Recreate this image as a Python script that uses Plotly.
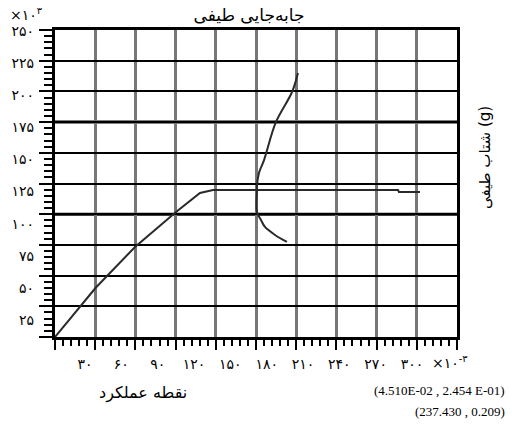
import plotly.graph_objects as go

# ---- data ----
capacity_sd = [0, 30.2, 59.7, 90.3, 108.2, 117.9, 256.0, 256.7, 272.4]
capacity_sa = [0, 39.9, 73.3, 101.8, 117.3, 119.7, 119.7, 118.1, 118.1]

demand_sd = [181.3, 176.9, 164.9, 156.0, 152.2, 150.7, 150.7, 150.7, 153.7, 156.7, 164.2, 173.1]
demand_sa = [215.0, 199.5, 175.1, 144.1, 133.6, 123.0, 119.7, 101.8, 95.3, 89.6, 83.1, 77.4]

x_tick_vals = [30, 60, 90, 120, 150, 180, 210, 240, 270, 300]
x_tick_text = ["۳۰", "۶۰", "۹۰", "۱۲۰", "۱۵۰", "۱۸۰", "۲۱۰", "۲۴۰", "۲۷۰", "۳۰۰"]
y_tick_vals = [25, 50, 75, 100, 125, 150, 175, 200, 225, 250]
y_tick_text = ["۲۵", "۵۰", "۷۵", "۱۰۰", "۱۲۵", "۱۵۰", "۱۷۵", "۲۰۰", "۲۲۵", "۲۵۰"]
emphasis_y = [100, 175]

title_text = "جابه‌جایی طیفی"
y_title_text = "شتاب طیفی (g)"
point_label = "نقطه عملکرد"
point_line1 = "(4.510E-02 , 2.454 E-01)"
point_line2 = "(237.430 , 0.209)"

FA = "DejaVu Sans"
SERIF = "Liberation Serif"

fig = go.Figure()
fig.add_trace(go.Scatter(x=capacity_sd, y=capacity_sa, mode="lines",
                         line=dict(color="#2a2a2a", width=2), showlegend=False,
                         hoverinfo="skip"))
fig.add_trace(go.Scatter(x=demand_sd, y=demand_sa, mode="lines",
                         line=dict(color="#2a2a2a", width=2, shape="spline"),
                         showlegend=False, hoverinfo="skip"))
# empty traces so the label-only axes get drawn
fig.add_trace(go.Scatter(x=[], y=[], xaxis="x2", yaxis="y", showlegend=False,
                         hoverinfo="skip"))
fig.add_trace(go.Scatter(x=[], y=[], xaxis="x", yaxis="y2", showlegend=False,
                         hoverinfo="skip"))

for yv in emphasis_y:
    fig.add_shape(type="line", xref="paper", x0=0, x1=1, yref="y", y0=yv, y1=yv,
                  line=dict(color="black", width=3), layer="below")

fig.update_layout(
    width=512, height=430,
    margin=dict(l=55, r=55, t=30, b=93),
    paper_bgcolor="white", plot_bgcolor="white",
    title=dict(text=title_text, x=249 / 512, y=1 - 15 / 430,
               xanchor="center", yanchor="middle",
               font=dict(family=FA, size=17, color="black")),
    xaxis=dict(range=[0, 300], dtick=30, tick0=0, showgrid=True,
               gridcolor="#777777", gridwidth=2.5, zeroline=False,
               showline=True, linecolor="black", linewidth=3, mirror=True,
               ticks="outside", ticklen=10, tickwidth=2, tickcolor="black",
               showticklabels=False,
               minor=dict(dtick=6, ticks="outside", ticklen=6, tickwidth=2,
                          tickcolor="black", showgrid=False)),
    yaxis=dict(range=[0, 250], dtick=25, tick0=0, showgrid=True,
               gridcolor="black", gridwidth=1.5, zeroline=False,
               showline=True, linecolor="black", linewidth=3, mirror=True,
               ticks="outside", ticklen=13, tickwidth=2, tickcolor="black",
               showticklabels=False,
               minor=dict(dtick=5, ticks="outside", ticklen=8, tickwidth=2,
                          tickcolor="black", showgrid=False)),
    xaxis2=dict(overlaying="x", anchor="y", side="bottom",
                range=[5.2, 337.2], tickvals=x_tick_vals, ticktext=x_tick_text,
                showgrid=False, zeroline=False, showline=False, ticks="",
                ticklabelstandoff=17,
                tickfont=dict(family=FA, size=14, color="black")),
    yaxis2=dict(overlaying="y", anchor="x", side="left",
                range=[11.8, 250.8], tickvals=y_tick_vals, ticktext=y_tick_text,
                showgrid=False, zeroline=False, showline=False, ticks="",
                ticklabelstandoff=20,
                tickfont=dict(family=FA, size=14, color="black")),
)

ann = [
    dict(text="×۱۰<sup>۳</sup>", x=8 / 512, y=1 - 14 / 430, xanchor="left",
         yanchor="middle", font=dict(family=FA, size=14)),
    dict(text="×۱۰<sup>-۳</sup>", x=430 / 512, y=1 - 362 / 430, xanchor="left",
         yanchor="middle", font=dict(family=FA, size=14)),
    dict(text=point_label, x=143 / 512, y=1 - 393 / 430, xanchor="center",
         yanchor="middle", font=dict(family=FA, size=16)),
    dict(text=point_line1, x=507 / 512, y=1 - 390 / 430, xanchor="right",
         yanchor="middle", font=dict(family=SERIF, size=13)),
    dict(text=point_line2, x=507 / 512, y=1 - 411 / 430, xanchor="right",
         yanchor="middle", font=dict(family=SERIF, size=13)),
    dict(text=y_title_text, x=485 / 512, y=1 - 157 / 430, xanchor="center",
         yanchor="middle", textangle=-90, font=dict(family=FA, size=15)),
]
for a in ann:
    a.update(xref="paper", yref="paper", showarrow=False)
    a["font"]["color"] = "black"
    # convert figure-pixel fractions to plot-area paper coords
    px = a["x"] * 512
    py = (1 - a["y"]) * 430
    a["x"] = (px - 55) / 402
    a["y"] = (337 - py) / 307
    fig.add_annotation(**a)

fig.write_html("out.html", config={"displayModeBar": False},
               post_script="document.body.style.margin='0';"
                           "document.body.style.padding='0';")
